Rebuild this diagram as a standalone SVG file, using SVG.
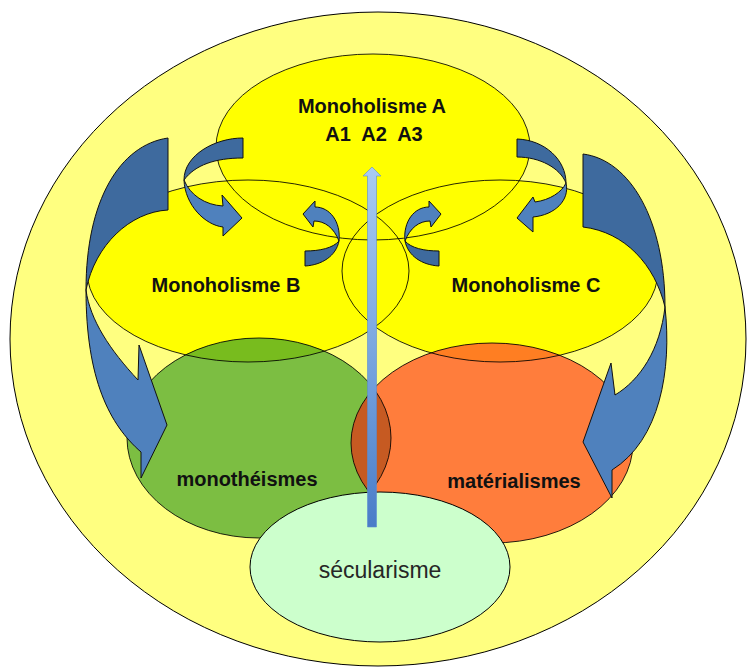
<svg xmlns="http://www.w3.org/2000/svg" width="748" height="668" viewBox="0 0 748 668">
  <style>
    .edge { fill: none; stroke: #000; stroke-opacity: 0.85; stroke-width: 1; }
    .lbl { font-family: "Liberation Sans", Arial, sans-serif; font-weight: bold; font-size: 20px; fill: #111; text-anchor: middle; }
    .sec { font-family: "Liberation Sans", Arial, sans-serif; font-size: 23px; fill: #262626; text-anchor: middle; }
    .dark { fill: #3E6A9E; stroke: #111; stroke-width: 1; stroke-linejoin: round; }
    .light { fill: #4F81BD; stroke: #111; stroke-width: 1; stroke-linejoin: round; }
  </style>
  <defs>
    <clipPath id="clipB"><ellipse cx="248" cy="271" rx="161" ry="91"/></clipPath>
    <clipPath id="clipC"><ellipse cx="500" cy="271" rx="158" ry="91"/></clipPath>
    <clipPath id="clipG"><ellipse cx="259" cy="438" rx="132" ry="100"/></clipPath>
    <linearGradient id="vgrad" x1="0" y1="0" x2="0" y2="1">
      <stop offset="0" stop-color="#A9CBF2"/>
      <stop offset="0.5" stop-color="#7AA7E0"/>
      <stop offset="1" stop-color="#4A7CC8"/>
    </linearGradient>
  </defs>

  <!-- outer ellipse -->
  <g id="outer">
    <ellipse cx="378" cy="339" rx="368" ry="327" fill="#FFFF80" stroke="#000" stroke-width="1"/>
  </g>

  <!-- fills -->
  <g id="monoholisme-b">
    <ellipse cx="248" cy="271" rx="161" ry="91" fill="#FFFF00"/>
  </g>
  <g id="monoholisme-c">
    <ellipse cx="500" cy="271" rx="158" ry="91" fill="#FFFF00"/>
  </g>
  <g id="monoholisme-a">
    <ellipse cx="373" cy="147" rx="157" ry="93" fill="#FFFF00"/>
  </g>
  <g id="monotheismes">
    <ellipse cx="259" cy="438" rx="132" ry="100" fill="#7CBE42"/>
    <ellipse cx="259" cy="438" rx="132" ry="100" fill="#78BC1E" clip-path="url(#clipB)"/>
  </g>
  <g id="materialismes">
    <ellipse cx="492" cy="443" rx="141" ry="100" fill="#FF7D3C"/>
    <ellipse cx="492" cy="443" rx="141" ry="100" fill="#FF7E22" clip-path="url(#clipC)"/>
    <ellipse cx="492" cy="443" rx="141" ry="100" fill="#C65A22" clip-path="url(#clipG)"/>
  </g>

  <!-- outlines -->
  <g id="outlines">
    <ellipse class="edge" cx="248" cy="271" rx="161" ry="91"/>
    <ellipse class="edge" cx="500" cy="271" rx="158" ry="91"/>
    <ellipse class="edge" cx="373" cy="147" rx="157" ry="93"/>
    <ellipse class="edge" cx="259" cy="438" rx="132" ry="100"/>
    <ellipse class="edge" cx="492" cy="443" rx="141" ry="100"/>
  </g>

  <g id="secularisme">
    <ellipse cx="380" cy="567" rx="130" ry="75" fill="#CCFFCC" stroke="#000" stroke-width="1"/>
    <text class="sec" x="380" y="578">sécularisme</text>
  </g>

  <!-- labels -->
  <g id="labels">
    <text class="lbl" x="372" y="113">Monoholisme A</text>
    <text class="lbl" x="374" y="141" xml:space="preserve">A1  A2  A3</text>
    <text class="lbl" x="226" y="292">Monoholisme B</text>
    <text class="lbl" x="526" y="292">Monoholisme C</text>
    <text class="lbl" x="247" y="486">monothéismes</text>
    <text class="lbl" x="514" y="488">matérialismes</text>
  </g>

  <!-- connectors -->
  <g id="connectors">
    <!-- big left curved arrow -->
    <path class="dark" d="M168,138 C120,145 86,200 86,290 C95,245 130,212 168,210 Z"/>
    <path class="light" d="M86,290 C90,320 110,350 138,380 L139,345 L167,425 L141,478 L141,452 C110,425 86,380 86,290 Z"/>
    <!-- big right curved arrow -->
    <path class="dark" d="M583,154 C630,160 665,220 665,307 C655,265 625,232 583,227 Z"/>
    <path class="light" d="M665,307 C672,370 660,440 612,470 L612,498 L583,442 L611,363 L615,395 C640,380 660,350 665,307 Z"/>
    <!-- small top-left arrow -->
    <path class="dark" d="M243,138 C215,138 184,155 184,180 C195,165 215,158 243,158 Z"/>
    <path class="light" d="M184,180 C185,205 205,225 223,227 L223,236 L242,218 L222,195 L223,206 C205,205 190,195 184,180 Z"/>
    <!-- small top-right arrow -->
    <path class="dark" d="M517,139 C545,140 566,160 566,183 C560,168 540,157 517,157 Z"/>
    <path class="light" d="M566,183 C570,200 555,215 533,217 L533,232 L517,218 L533,197 L535,202 C550,200 562,192 566,183 Z"/>
    <!-- small centre-left arrow -->
    <path class="dark" d="M305,266 C322,265 336,256 339,241 C333,248 320,251 305,251 Z"/>
    <path class="light" d="M339,241 C341,222 330,207 315,207 L315,201 L303,214 L313,227 L314,221 C325,221 334,228 339,241 Z"/>
    <!-- small centre-right arrow -->
    <g transform="translate(744,0) scale(-1,1)">
      <path class="dark" d="M305,266 C322,265 336,256 339,241 C333,248 320,251 305,251 Z"/>
      <path class="light" d="M339,241 C341,222 330,207 315,207 L315,201 L303,214 L313,227 L314,221 C325,221 334,228 339,241 Z"/>
    </g>
    <!-- vertical arrow -->
    <path d="M367.5,527 L367.5,176 L363,176 L372,167 L381,176 L376.5,176 L376.5,527 Z" fill="url(#vgrad)" stroke="#5B8BD0" stroke-width="0.6"/>
  </g>
</svg>
